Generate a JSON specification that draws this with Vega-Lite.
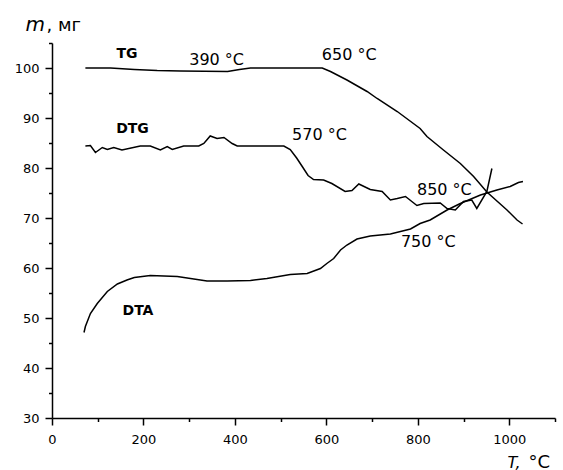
{
  "$schema": "https://vega.github.io/schema/vega-lite/v6.json",
  "width": 503,
  "height": 375,
  "autosize": "none",
  "padding": {"left": 52, "top": 43, "right": 8, "bottom": 52},
  "config": {"view": {"stroke": null}, "font": "DejaVu Sans"},
  "datasets": {
    "curves": [
      {"s": "TG", "T": 73, "m": 100}, {"s": "TG", "T": 128, "m": 100}, {"s": "TG", "T": 180, "m": 99.7}, {"s": "TG", "T": 230, "m": 99.5}, {"s": "TG", "T": 281, "m": 99.4}, {"s": "TG", "T": 384, "m": 99.3}, {"s": "TG", "T": 410, "m": 99.7}, {"s": "TG", "T": 434, "m": 100}, {"s": "TG", "T": 500, "m": 100}, {"s": "TG", "T": 591, "m": 100}, {"s": "TG", "T": 609, "m": 99.3}, {"s": "TG", "T": 645, "m": 97.6}, {"s": "TG", "T": 689, "m": 95.3}, {"s": "TG", "T": 711, "m": 93.9}, {"s": "TG", "T": 755, "m": 91.3}, {"s": "TG", "T": 805, "m": 87.9}, {"s": "TG", "T": 820, "m": 86.3}, {"s": "TG", "T": 856, "m": 83.6}, {"s": "TG", "T": 893, "m": 80.9}, {"s": "TG", "T": 922, "m": 78.3}, {"s": "TG", "T": 951, "m": 75.2}, {"s": "TG", "T": 995, "m": 71.6}, {"s": "TG", "T": 1017, "m": 69.6}, {"s": "TG", "T": 1029, "m": 68.8},
      {"s": "DTG", "T": 73, "m": 84.4}, {"s": "DTG", "T": 84, "m": 84.5}, {"s": "DTG", "T": 95, "m": 83.1}, {"s": "DTG", "T": 110, "m": 84.1}, {"s": "DTG", "T": 121, "m": 83.7}, {"s": "DTG", "T": 135, "m": 84.1}, {"s": "DTG", "T": 153, "m": 83.6}, {"s": "DTG", "T": 193, "m": 84.4}, {"s": "DTG", "T": 215, "m": 84.4}, {"s": "DTG", "T": 237, "m": 83.6}, {"s": "DTG", "T": 252, "m": 84.3}, {"s": "DTG", "T": 263, "m": 83.7}, {"s": "DTG", "T": 288, "m": 84.4}, {"s": "DTG", "T": 321, "m": 84.4}, {"s": "DTG", "T": 332, "m": 84.9}, {"s": "DTG", "T": 346, "m": 86.4}, {"s": "DTG", "T": 361, "m": 85.9}, {"s": "DTG", "T": 376, "m": 86.1}, {"s": "DTG", "T": 394, "m": 84.9}, {"s": "DTG", "T": 405, "m": 84.4}, {"s": "DTG", "T": 507, "m": 84.4}, {"s": "DTG", "T": 521, "m": 83.7}, {"s": "DTG", "T": 535, "m": 82}, {"s": "DTG", "T": 548, "m": 80.2}, {"s": "DTG", "T": 560, "m": 78.5}, {"s": "DTG", "T": 572, "m": 77.7}, {"s": "DTG", "T": 594, "m": 77.6}, {"s": "DTG", "T": 612, "m": 76.9}, {"s": "DTG", "T": 641, "m": 75.3}, {"s": "DTG", "T": 656, "m": 75.5}, {"s": "DTG", "T": 671, "m": 76.8}, {"s": "DTG", "T": 696, "m": 75.7}, {"s": "DTG", "T": 722, "m": 75.3}, {"s": "DTG", "T": 740, "m": 73.6}, {"s": "DTG", "T": 755, "m": 73.9}, {"s": "DTG", "T": 773, "m": 74.3}, {"s": "DTG", "T": 798, "m": 72.5}, {"s": "DTG", "T": 813, "m": 72.9}, {"s": "DTG", "T": 849, "m": 73}, {"s": "DTG", "T": 864, "m": 71.9}, {"s": "DTG", "T": 882, "m": 71.6}, {"s": "DTG", "T": 900, "m": 73.3}, {"s": "DTG", "T": 918, "m": 73.6}, {"s": "DTG", "T": 929, "m": 71.9}, {"s": "DTG", "T": 951, "m": 75.3}, {"s": "DTG", "T": 962, "m": 79.9},
      {"s": "DTA", "T": 70, "m": 47.1}, {"s": "DTA", "T": 73, "m": 48.3}, {"s": "DTA", "T": 84, "m": 50.9}, {"s": "DTA", "T": 99, "m": 52.9}, {"s": "DTA", "T": 121, "m": 55.3}, {"s": "DTA", "T": 143, "m": 56.8}, {"s": "DTA", "T": 164, "m": 57.6}, {"s": "DTA", "T": 180, "m": 58.1}, {"s": "DTA", "T": 215, "m": 58.5}, {"s": "DTA", "T": 274, "m": 58.3}, {"s": "DTA", "T": 339, "m": 57.4}, {"s": "DTA", "T": 383, "m": 57.4}, {"s": "DTA", "T": 434, "m": 57.5}, {"s": "DTA", "T": 470, "m": 57.9}, {"s": "DTA", "T": 521, "m": 58.7}, {"s": "DTA", "T": 558, "m": 58.9}, {"s": "DTA", "T": 587, "m": 59.9}, {"s": "DTA", "T": 601, "m": 60.9}, {"s": "DTA", "T": 616, "m": 61.9}, {"s": "DTA", "T": 631, "m": 63.6}, {"s": "DTA", "T": 645, "m": 64.6}, {"s": "DTA", "T": 667, "m": 65.8}, {"s": "DTA", "T": 696, "m": 66.4}, {"s": "DTA", "T": 740, "m": 66.8}, {"s": "DTA", "T": 784, "m": 67.8}, {"s": "DTA", "T": 805, "m": 68.9}, {"s": "DTA", "T": 827, "m": 69.6}, {"s": "DTA", "T": 864, "m": 71.6}, {"s": "DTA", "T": 893, "m": 72.9}, {"s": "DTA", "T": 937, "m": 74.6}, {"s": "DTA", "T": 973, "m": 75.6}, {"s": "DTA", "T": 1002, "m": 76.3}, {"s": "DTA", "T": 1020, "m": 77.1}, {"s": "DTA", "T": 1030, "m": 77.3}
    ],
    "labels": [
      {"kind": "curve", "text": "TG", "T": 164, "m": 102},
      {"kind": "curve", "text": "DTG", "T": 176, "m": 87.1},
      {"kind": "curve", "text": "DTA", "T": 188, "m": 50.6},
      {"kind": "temp", "text": "390 °C", "T": 360, "m": 100.6},
      {"kind": "temp", "text": "650 °C", "T": 650, "m": 101.6},
      {"kind": "temp", "text": "570 °C", "T": 585, "m": 85.6},
      {"kind": "temp", "text": "850 °C", "T": 858, "m": 74.6},
      {"kind": "temp", "text": "750 °C", "T": 823, "m": 64.2}
    ]
  },
  "resolve": {"axis": {"x": "independent", "y": "independent"}},
  "layer": [
    {
      "data": {"name": "curves"},
      "mark": {"type": "line", "color": "black", "strokeWidth": 1.5},
      "encoding": {
        "x": {"field": "T", "type": "quantitative",
          "scale": {"domain": [0, 1100], "nice": false, "zero": false},
          "axis": {"orient": "bottom", "values": [0, 200, 400, 600, 800, 1000], "format": "d", "grid": false,
            "domainColor": "black", "domainWidth": 1.5, "tickColor": "black", "tickWidth": 1.5, "tickSize": 7,
            "labelFont": "DejaVu Sans", "labelFontSize": 13, "labelColor": "black", "labelPadding": 8,
            "labelFlush": false, "labelOverlap": false,
            "title": "T,", "titleFont": "DejaVu Sans", "titleFontStyle": "italic", "titleFontWeight": "normal",
            "titleFontSize": 16, "titleColor": "black", "titleAlign": "left", "titleBaseline": "alphabetic",
            "titleAnchor": null, "titleX": 455, "titleY": 49}},
        "y": {"field": "m", "type": "quantitative",
          "scale": {"domain": [30, 105], "nice": false, "zero": false},
          "axis": {"orient": "left", "values": [30, 40, 50, 60, 70, 80, 90, 100], "grid": false,
            "domainColor": "black", "domainWidth": 1.5, "tickColor": "black", "tickWidth": 1.5, "tickSize": 7,
            "labelFont": "DejaVu Sans", "labelFontSize": 13, "labelColor": "black", "labelPadding": 6,
            "labelFlush": false, "labelOverlap": false,
            "title": "m", "titleFont": "DejaVu Sans", "titleFontStyle": "italic", "titleFontWeight": "normal",
            "titleFontSize": 20, "titleColor": "black", "titleAngle": 0, "titleAlign": "left", "titleBaseline": "alphabetic",
            "titleAnchor": null, "titleX": -27, "titleY": -13}},
        "detail": {"field": "s"}
      }
    },
    {
      "data": {"name": "labels"},
      "transform": [{"filter": "datum.kind === 'curve'"}],
      "mark": {"type": "text", "font": "DejaVu Sans", "fontWeight": "bold", "fontSize": 14, "color": "black", "align": "center", "baseline": "alphabetic"},
      "encoding": {
        "x": {"field": "T", "type": "quantitative",
          "scale": {"domain": [0, 1100], "nice": false, "zero": false},
          "axis": {"orient": "bottom", "values": [100, 300, 500, 700, 900, 1100], "grid": false, "labels": false,
            "domain": false, "tickColor": "black", "tickWidth": 1.5, "tickSize": 3.5,
            "title": "°C", "titleFont": "DejaVu Sans", "titleFontWeight": "normal", "titleFontSize": 18,
            "titleColor": "black", "titleAlign": "left", "titleBaseline": "alphabetic",
            "titleAnchor": null, "titleX": 476, "titleY": 49}},
        "y": {"field": "m", "type": "quantitative",
          "scale": {"domain": [30, 105], "nice": false, "zero": false},
          "axis": {"orient": "left", "values": [35, 45, 55, 65, 75, 85, 95, 105], "grid": false, "labels": false,
            "domain": false, "tickColor": "black", "tickWidth": 1.5, "tickSize": 3.5,
            "title": ", мг", "titleFont": "DejaVu Sans", "titleFontWeight": "normal", "titleFontSize": 18,
            "titleColor": "black", "titleAngle": 0, "titleAlign": "left", "titleBaseline": "alphabetic",
            "titleAnchor": null, "titleX": -6, "titleY": -13}},
        "text": {"field": "text"}
      }
    },
    {
      "data": {"name": "labels"},
      "transform": [{"filter": "datum.kind === 'temp'"}],
      "mark": {"type": "text", "font": "DejaVu Sans", "fontSize": 16, "color": "black", "align": "center", "baseline": "alphabetic"},
      "encoding": {
        "x": {"field": "T", "type": "quantitative", "scale": {"domain": [0, 1100], "nice": false, "zero": false}, "axis": null},
        "y": {"field": "m", "type": "quantitative", "scale": {"domain": [30, 105], "nice": false, "zero": false}, "axis": null},
        "text": {"field": "text"}
      }
    }
  ]
}
